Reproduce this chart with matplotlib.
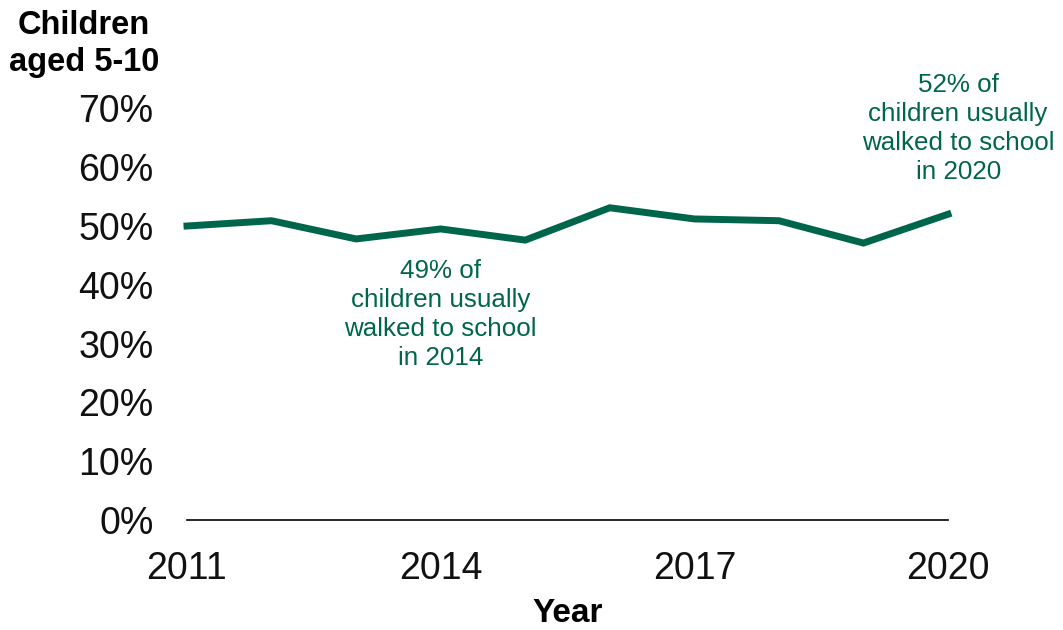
import matplotlib
matplotlib.use("Agg")
import matplotlib.pyplot as plt

years = [2011, 2012, 2013, 2014, 2015, 2016, 2017, 2018, 2019, 2020]
walked_pct = [50.0, 50.9, 47.8, 49.5, 47.6, 53.1, 51.2, 50.9, 47.1, 52.0]
y_ticks = [0, 10, 20, 30, 40, 50, 60, 70]
y_tick_labels = ["0%", "10%", "20%", "30%", "40%", "50%", "60%", "70%"]
x_ticks = [2011, 2014, 2017, 2020]
note_2014 = "49% of\nchildren usually\nwalked to school\nin 2014"
note_2020 = "52% of\nchildren usually\nwalked to school\nin 2020"

plt.rcParams['font.family'] = ['Liberation Sans', 'DejaVu Sans']
green = "#00664b"

fig = plt.figure(figsize=(10.63, 6.30), dpi=100)
ax = fig.add_axes([187/1063, 1 - 520/630, (948-187)/1063, (520-108.4)/630])
ax.plot(years, walked_pct, color=green, linewidth=5, solid_joinstyle='miter', clip_on=False)
ax.set_xlim(2011, 2020)
ax.set_ylim(0, 70)
for s in ['top', 'right', 'left']:
    ax.spines[s].set_visible(False)
ax.spines['bottom'].set_color('black')
ax.spines['bottom'].set_linewidth(1.2)
ax.set_yticks(y_ticks)
ax.set_yticklabels(y_tick_labels)
ax.set_xticks(x_ticks)
ax.set_xticklabels([str(x) for x in x_ticks])
ax.tick_params(axis='y', length=0, pad=24, labelsize=27, labelcolor='#111111')
ax.tick_params(axis='x', length=0, pad=22, labelsize=27, labelcolor='#111111')
ax.set_xlabel("Year", fontsize=24, fontweight='bold', labelpad=8)

fig.text(84/1063, 1 - 44/630, "Children\naged 5-10", ha='center', va='center',
         fontsize=23.5, fontweight='bold', linespacing=1.25)

ax.text(2014, 35, note_2014, ha='center', va='center', color=green, fontsize=18.7,
        linespacing=1.27)
ax.text(2020.12, 66.6, note_2020, ha='center', va='center', color=green,
        fontsize=18.7, linespacing=1.27, clip_on=False)

fig.savefig("out.png", dpi=100)
